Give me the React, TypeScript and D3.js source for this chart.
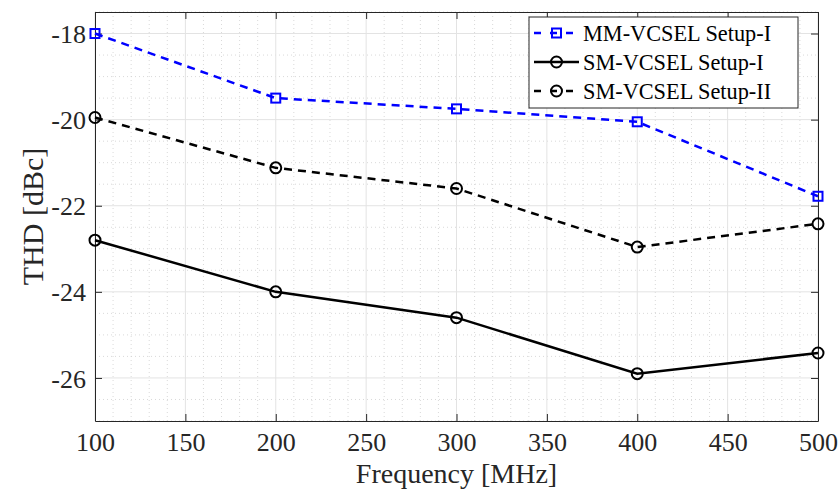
import React, { useRef, useEffect } from "react";
import * as d3 from "d3";

const freqs = [100, 200, 300, 400, 500];
const mmSetupI = [-18, -19.5, -19.75, -20.05, -21.78];
const smSetupI = [-22.8, -24.0, -24.6, -25.9, -25.42];
const smSetupII = [-19.95, -21.12, -21.6, -22.96, -22.42];
const xTicks = [100, 150, 200, 250, 300, 350, 400, 450, 500];
const yTicks = [-26, -24, -22, -20, -18];

const series = [
  { name: "MM-VCSEL Setup-I", values: mmSetupI, color: "#0000ff", dash: "8,6", marker: "square" },
  { name: "SM-VCSEL Setup-I", values: smSetupI, color: "#000000", dash: null, marker: "circle" },
  { name: "SM-VCSEL Setup-II", values: smSetupII, color: "#000000", dash: "8,6", marker: "circle" },
];

const W = 840;
const H = 489;
const margin = { top: 12, right: 22, bottom: 68, left: 95 };
const font = "'Liberation Serif', 'Times New Roman', serif";

export default function App() {
  const svgRef = useRef<SVGSVGElement>(null);

  useEffect(() => {
    const svg = d3.select(svgRef.current);
    svg.selectAll("*").remove();
    const iw = W - margin.left - margin.right;
    const ih = H - margin.top - margin.bottom;

    const x = d3.scaleLinear().domain([100, 500]).range([0, iw]);
    const y = d3.scaleLinear().domain([-27, -17.5]).range([ih, 0]);

    const g = svg.append("g").attr("transform", `translate(${margin.left},${margin.top})`);

    // minor grid
    const minorX = d3.range(100, 501, 10).filter((v) => v % 50 !== 0);
    const minorY = d3.range(-27, -17.49, 0.5).filter((v) => v % 2 !== 0);
    g.selectAll(".mx")
      .data(minorX)
      .join("line")
      .attr("x1", (d) => x(d))
      .attr("x2", (d) => x(d))
      .attr("y1", 0)
      .attr("y2", ih)
      .attr("stroke", "#cfcfcf")
      .attr("stroke-width", 0.8)
      .attr("stroke-dasharray", "1,3");
    g.selectAll(".my")
      .data(minorY)
      .join("line")
      .attr("y1", (d) => y(d))
      .attr("y2", (d) => y(d))
      .attr("x1", 0)
      .attr("x2", iw)
      .attr("stroke", "#cfcfcf")
      .attr("stroke-width", 0.8)
      .attr("stroke-dasharray", "1,3");

    // major grid
    g.selectAll(".gx")
      .data(xTicks)
      .join("line")
      .attr("x1", (d) => x(d))
      .attr("x2", (d) => x(d))
      .attr("y1", 0)
      .attr("y2", ih)
      .attr("stroke", "#e3e3e3")
      .attr("stroke-width", 1);
    g.selectAll(".gy")
      .data(yTicks)
      .join("line")
      .attr("y1", (d) => y(d))
      .attr("y2", (d) => y(d))
      .attr("x1", 0)
      .attr("x2", iw)
      .attr("stroke", "#e3e3e3")
      .attr("stroke-width", 1);

    // axes (ticks inside, box)
    const axisColor = "#262626";
    const fmt = (d: d3.NumberValue) => String(d);
    const xAxis = g
      .append("g")
      .attr("transform", `translate(0,${ih})`)
      .call(d3.axisBottom(x).tickValues(xTicks).tickFormat(fmt).tickSizeInner(-7).tickSizeOuter(0).tickPadding(12));
    const xAxisTop = g.append("g").call(d3.axisTop(x).tickValues(xTicks).tickSizeInner(-7).tickSizeOuter(0).tickFormat(() => ""));
    const yAxis = g
      .append("g")
      .call(d3.axisLeft(y).tickValues(yTicks).tickFormat(fmt).tickSizeInner(-7).tickSizeOuter(0).tickPadding(9));
    const yAxisRight = g
      .append("g")
      .attr("transform", `translate(${iw},0)`)
      .call(d3.axisRight(y).tickValues(yTicks).tickSizeInner(-7).tickSizeOuter(0).tickFormat(() => ""));
    [xAxis, xAxisTop, yAxis, yAxisRight].forEach((a) => {
      a.selectAll("path").attr("stroke", axisColor).attr("stroke-width", 1);
      a.selectAll("line").attr("stroke", axisColor).attr("stroke-width", 1);
      a.selectAll("text").attr("fill", axisColor).style("font-family", font).style("font-size", "26px");
    });
    yAxis.selectAll("text").attr("dy", "0.35em");

    // lines and markers
    const lineGen = d3
      .line<number>()
      .x((_, i) => x(freqs[i]))
      .y((d) => y(d));

    series.forEach((s) => {
      g.append("path")
        .datum(s.values)
        .attr("d", lineGen)
        .attr("fill", "none")
        .attr("stroke", s.color)
        .attr("stroke-width", 2.5)
        .attr("stroke-dasharray", s.dash);
      if (s.marker === "square") {
        g.selectAll(null)
          .data(s.values)
          .join("rect")
          .attr("x", (_, i) => x(freqs[i]) - 4.5)
          .attr("y", (d) => y(d) - 4.5)
          .attr("width", 9)
          .attr("height", 9)
          .attr("fill", "none")
          .attr("stroke", s.color)
          .attr("stroke-width", 2);
      } else {
        g.selectAll(null)
          .data(s.values)
          .join("circle")
          .attr("cx", (_, i) => x(freqs[i]))
          .attr("cy", (d) => y(d))
          .attr("r", 5.5)
          .attr("fill", "none")
          .attr("stroke", s.color)
          .attr("stroke-width", 2);
      }
    });

    // axis labels
    svg
      .append("text")
      .attr("x", margin.left + iw / 2)
      .attr("y", 482.5)
      .attr("text-anchor", "middle")
      .attr("fill", axisColor)
      .style("font-family", font)
      .style("font-size", "28px")
      .text("Frequency [MHz]");
    svg
      .append("text")
      .attr("transform", `translate(43,${margin.top + ih / 2}) rotate(-90)`)
      .attr("text-anchor", "middle")
      .attr("fill", axisColor)
      .style("font-family", font)
      .style("font-size", "30px")
      .text("THD [dBc]");

    // legend
    const lx = 529;
    const ly = 17;
    const lw = 269;
    const lh = 91;
    const leg = svg.append("g");
    leg
      .append("rect")
      .attr("x", lx)
      .attr("y", ly)
      .attr("width", lw)
      .attr("height", lh)
      .attr("fill", "white")
      .attr("stroke", axisColor)
      .attr("stroke-width", 1);
    series.forEach((s, i) => {
      const cy = ly + 16 + i * 29;
      leg
        .append("line")
        .attr("x1", lx + 5)
        .attr("x2", lx + 50)
        .attr("y1", cy)
        .attr("y2", cy)
        .attr("stroke", s.color)
        .attr("stroke-width", 2.5)
        .attr("stroke-dasharray", s.dash ? "7,9" : null);
      const mx = lx + 27.5;
      if (s.marker === "square") {
        leg
          .append("rect")
          .attr("x", mx - 4.5)
          .attr("y", cy - 4.5)
          .attr("width", 9)
          .attr("height", 9)
          .attr("fill", "none")
          .attr("stroke", s.color)
          .attr("stroke-width", 2);
      } else {
        leg
          .append("circle")
          .attr("cx", mx)
          .attr("cy", cy)
          .attr("r", 5.5)
          .attr("fill", "none")
          .attr("stroke", s.color)
          .attr("stroke-width", 2);
      }
      leg
        .append("text")
        .attr("x", lx + 54)
        .attr("y", cy)
        .attr("dy", "0.35em")
        .attr("fill", "#000")
        .style("font-family", font)
        .style("font-size", "22.3px")
        .text(s.name);
    });
  }, []);

  return (
    <svg
      ref={svgRef}
      width={W}
      height={H}
      style={{ position: "absolute", left: 0, top: 0, display: "block", background: "white" }}
    />
  );
}
